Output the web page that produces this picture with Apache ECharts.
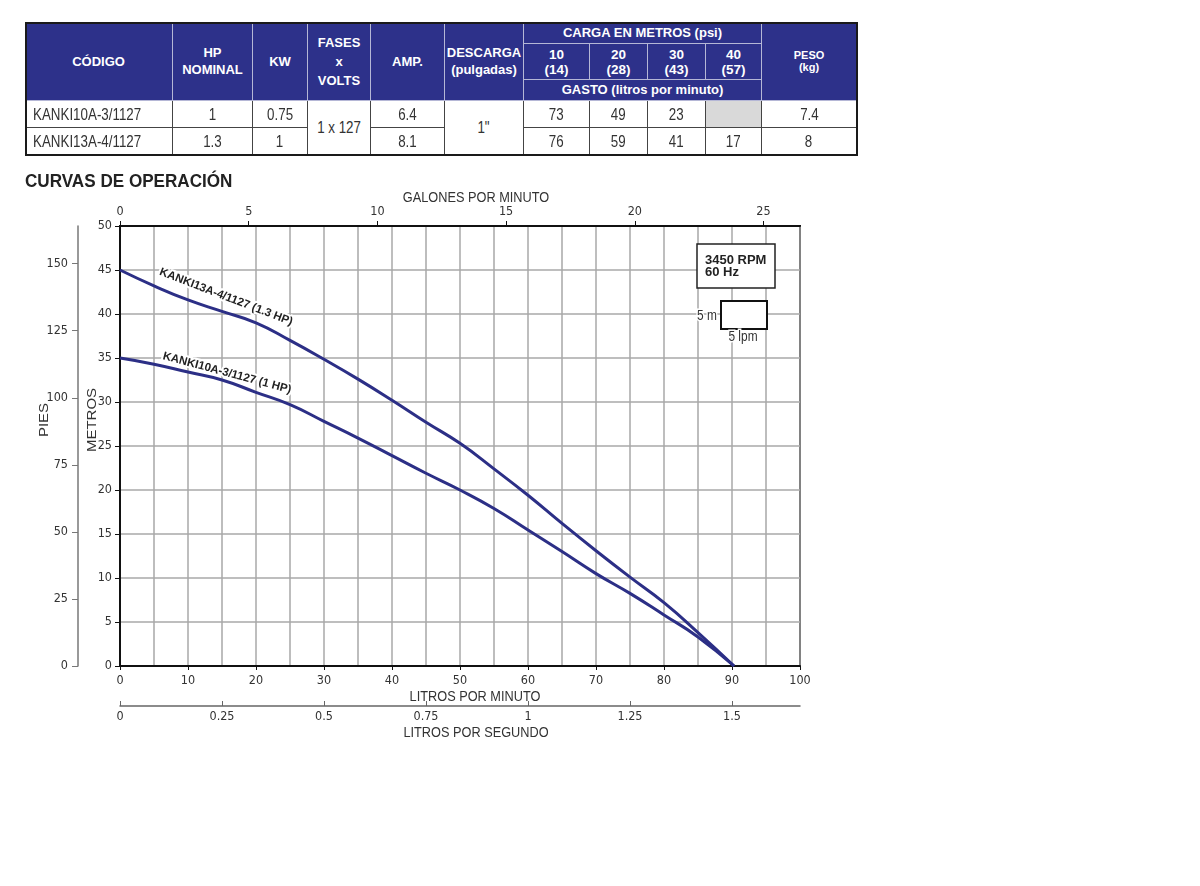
<!DOCTYPE html>
<html>
<head>
<meta charset="utf-8">
<script src="https://cdn.jsdelivr.net/npm/echarts@6/dist/echarts.min.js"></script>
<style>
html,body{margin:0;padding:0;background:#fff;}
#chart{position:absolute;left:0;top:0;width:1200px;height:886px;}
#table{position:absolute;left:0;top:0;width:1200px;height:165px;}
.c{position:absolute;box-sizing:border-box;display:flex;align-items:center;justify-content:center;text-align:center;
   font-family:'Liberation Sans',Arial,sans-serif;white-space:nowrap;}
.h{background:#2d318a;color:#fff;font-weight:bold;font-size:13px;line-height:17px;border-right:1px solid #b5b7d6;border-bottom:1px solid #b5b7d6;}
.h.fv{line-height:19px;}
.h.big{font-size:13.5px;line-height:15px;}
.h.one{line-height:14px;}
.hs{font-size:11px;line-height:12px;}
.b{color:#333;font-size:16.5px;border-right:1px solid #444;border-bottom:1px solid #444;background:#fff;}
.b span{display:inline-block;transform:scaleX(0.81);transform-origin:center;}
.l{justify-content:flex-start;padding-left:8px;}
.l span{transform-origin:left center;}
.g{background:#d9d9d9;}
.frame{position:absolute;box-sizing:border-box;border:2px solid #1a1a1a;pointer-events:none;}
</style>
</head>
<body>
<div id="chart"></div>
<div id="table"></div>
<script>
// ---------- table data ----------
const tableHeaders = ['CÓDIGO', 'HP<br>NOMINAL', 'KW', 'FASES<br>x<br>VOLTS', 'AMP.', 'DESCARGA<br>(pulgadas)'];
const cargaTitle = 'CARGA EN METROS (psi)';
const cargaCols = ['10<br>(14)', '20<br>(28)', '30<br>(43)', '40<br>(57)'];
const gastoTitle = 'GASTO (litros por minuto)';
const pesoTitle = 'PESO<br>(kg)';
const codes = ['KANKI10A-3/1127', 'KANKI13A-4/1127'];
const hpValues = ['1', '1.3'];
const kwValues = ['0.75', '1'];
const fasesVolts = '1 x 127';
const ampValues = ['6.4', '8.1'];
const descarga = '1"';
const gastoRow1 = ['73', '49', '23', null];
const gastoRow2 = ['76', '59', '41', '17'];
const pesoValues = ['7.4', '8'];

// ---------- chart data ----------
const flow13 = [0, 5, 10, 15, 20, 25, 30, 35, 40, 45, 50, 55, 60, 65, 70, 75, 80, 85, 90.3];
const head13 = [45.0, 43.2, 41.6, 40.3, 39.0, 37.0, 34.85, 32.6, 30.2, 27.7, 25.3, 22.4, 19.4, 16.2, 13.1, 10.1, 7.2, 3.8, 0];
const flow10 = [0, 5, 10, 15, 20, 25, 30, 35, 40, 45, 50, 55, 60, 65, 70, 75, 80, 85, 90.3];
const head10 = [35.0, 34.3, 33.4, 32.5, 31.1, 29.7, 27.8, 25.9, 23.9, 21.9, 20.0, 17.9, 15.45, 13.0, 10.5, 8.25, 5.8, 3.3, 0];
const label13 = 'KANKI13A-4/1127 (1.3 HP)';
const label10 = 'KANKI10A-3/1127 (1 HP)';
const gpmTicks = [0, 5, 10, 15, 20, 25];
const lpsTicks = [0, 0.25, 0.5, 0.75, 1, 1.25, 1.5];
const piesTicks = [0, 25, 50, 75, 100, 125, 150];
const LPM_PER_GPM = 3.785412;
const M_PER_FT = 0.3048;

// ---------- build table ----------
const colX = [25, 173, 253, 308, 371, 445, 524, 590, 648, 706, 762, 857];
const rowY = [22, 44, 80, 101, 128, 155];
let html = '';
function cell(c0, c1, r0, r1, text, cls) {
  const isBody = cls.indexOf('b') === 0;
  const inner = text == null ? '' : (isBody ? '<span>' + text + '</span>' : text);
  html += '<div class="c ' + cls + '" style="left:' + colX[c0] + 'px;top:' + rowY[r0] + 'px;width:' +
    (colX[c1] - colX[c0]) + 'px;height:' + (rowY[r1] - rowY[r0]) + 'px;">' + inner + '</div>';
}
tableHeaders.forEach((t, i) => cell(i, i + 1, 0, 3, t, i === 3 ? 'h fv' : 'h'));
cell(6, 10, 0, 1, cargaTitle, 'h one');
cargaCols.forEach((t, i) => cell(6 + i, 7 + i, 1, 2, t, 'h big'));
cell(6, 10, 2, 3, gastoTitle, 'h one');
cell(10, 11, 0, 3, pesoTitle, 'h hs');
[0, 1].forEach(r => {
  cell(0, 1, 3 + r, 4 + r, codes[r], 'b l');
  cell(1, 2, 3 + r, 4 + r, hpValues[r], 'b');
  cell(2, 3, 3 + r, 4 + r, kwValues[r], 'b');
  cell(4, 5, 3 + r, 4 + r, ampValues[r], 'b');
  const g = r === 0 ? gastoRow1 : gastoRow2;
  g.forEach((v, i) => cell(6 + i, 7 + i, 3 + r, 4 + r, v, v == null ? 'b g' : 'b'));
  cell(10, 11, 3 + r, 4 + r, pesoValues[r], 'b');
});
cell(3, 4, 3, 5, fasesVolts, 'b');
cell(5, 6, 3, 5, descarga, 'b');
html += '<div class="frame" style="left:' + colX[0] + 'px;top:' + rowY[0] + 'px;width:' + (colX[11] - colX[0] + 1) + 'px;height:' + (rowY[5] - rowY[0] + 1) + 'px;"></div>';
document.getElementById('table').innerHTML = html;

// ---------- chart ----------
const FONT_AX = "'DejaVu Sans Condensed','Liberation Sans',sans-serif";
const FONT = "'Liberation Sans',Arial,sans-serif";
const gridColor = '#a8a8a8';
const lbl = { color: '#333', fontSize: 12.5, fontFamily: FONT_AX };
const chart = echarts.init(document.getElementById('chart'), null, { renderer: 'canvas' });

function txt(x, y, text, opts) {
  return Object.assign({
    type: 'text', x: x, y: y, z: 100, scaleX: 0.85,
    style: Object.assign({
      text: text, fill: '#333', fontSize: 15, fontFamily: FONT,
      align: 'center', verticalAlign: 'middle', textAlign: 'center', textVerticalAlign: 'middle'
    }, opts && opts.style)
  }, opts && opts.el);
}

chart.setOption({
  animation: false,
  grid: { left: 120, top: 226, width: 680, height: 440, show: true, borderColor: '#111', borderWidth: 2, backgroundColor: 'transparent' },
  xAxis: [
    {
      type: 'value', position: 'bottom', min: 0, max: 100, interval: 10,
      axisLine: { show: true, lineStyle: { color: '#111', width: 2 } },
      axisTick: { show: true, length: 4, lineStyle: { color: '#111' } },
      axisLabel: Object.assign({ margin: 8 }, lbl),
      splitLine: { show: true, lineStyle: { color: gridColor, width: 1.5 } },
      minorTick: { show: false, splitNumber: 2 },
      minorSplitLine: { show: true, lineStyle: { color: gridColor, width: 1.5 } }
    },
    {
      type: 'value', position: 'top', min: 0, max: 100 / LPM_PER_GPM,
      axisLine: { show: true, onZero: false, lineStyle: { color: '#111', width: 2 } },
      axisTick: { show: true, length: 5, customValues: gpmTicks, lineStyle: { color: '#111' } },
      axisLabel: Object.assign({ margin: 8, customValues: gpmTicks }, lbl),
      splitLine: { show: false }
    },
    {
      type: 'value', position: 'bottom', offset: 40, min: 0, max: 100 / 60,
      axisLine: { show: true, onZero: false, lineStyle: { color: '#666', width: 1.5 } },
      axisTick: { show: true, inside: true, length: 5, customValues: lpsTicks, lineStyle: { color: '#666' } },
      axisLabel: Object.assign({ margin: 4, customValues: lpsTicks, formatter: v => String(v) }, lbl),
      splitLine: { show: false }
    }
  ],
  yAxis: [
    {
      type: 'value', position: 'left', min: 0, max: 50, interval: 5,
      axisLine: { show: true, onZero: false, lineStyle: { color: '#111', width: 2 } },
      axisTick: { show: true, length: 5, lineStyle: { color: '#111' } },
      axisLabel: Object.assign({ margin: 8 }, lbl),
      splitLine: { show: true, lineStyle: { color: gridColor, width: 1.5 } }
    },
    {
      type: 'value', position: 'left', offset: 42, min: 0, max: 50 / M_PER_FT,
      axisLine: { show: true, onZero: false, lineStyle: { color: '#777', width: 1.5 } },
      axisTick: { show: true, length: 6, customValues: piesTicks, lineStyle: { color: '#777' } },
      axisLabel: Object.assign({ margin: 10, customValues: piesTicks }, lbl),
      splitLine: { show: false }
    }
  ],
  series: [
    {
      name: label13, type: 'line', xAxisIndex: 0, yAxisIndex: 0,
      data: flow13.map((f, i) => [f, head13[i]]),
      smooth: 0.5, symbol: 'none',
      lineStyle: { color: '#2c2f86', width: 3 }, z: 5
    },
    {
      name: label10, type: 'line', xAxisIndex: 0, yAxisIndex: 0,
      data: flow10.map((f, i) => [f, head10[i]]),
      smooth: 0.5, symbol: 'none',
      lineStyle: { color: '#2c2f86', width: 3 }, z: 5
    }
  ],
  graphic: [
    txt(25, 182, 'CURVAS DE OPERACIÓN', { el: { scaleX: 0.95 }, style: { fill: '#222', fontSize: 18, fontWeight: 'bold', align: 'left', textAlign: 'left' } }),
    txt(476, 198, 'GALONES POR MINUTO'),
    txt(475, 697, 'LITROS POR MINUTO'),
    txt(476, 733, 'LITROS POR SEGUNDO'),
    txt(92, 420, 'METROS', { el: { rotation: Math.PI / 2, scaleX: 1, scaleY: 0.85 } }),
    txt(44, 420, 'PIES', { el: { rotation: Math.PI / 2, scaleX: 1, scaleY: 0.85 } }),
    txt(226, 297, label13, { el: { rotation: -21 * Math.PI / 180, scaleX: 1 }, style: { fill: '#222', fontSize: 11.5, fontWeight: 'bold', stroke: '#fff', lineWidth: 4 } }),
    txt(227, 373, label10, { el: { rotation: -15 * Math.PI / 180, scaleX: 1 }, style: { fill: '#222', fontSize: 11.5, fontWeight: 'bold', stroke: '#fff', lineWidth: 4 } }),
    { type: 'rect', z: 100, shape: { x: 697, y: 244, width: 78, height: 44 }, style: { fill: '#fff', stroke: '#222', lineWidth: 1.5 } },
    txt(705, 254, '3450 RPM\n60 Hz', { el: { scaleX: 1 }, style: { fill: '#222', fontSize: 13, fontWeight: 'bold', lineHeight: 12, align: 'left', textAlign: 'left', verticalAlign: 'top', textVerticalAlign: 'top' } }),
    { type: 'rect', z: 100, shape: { x: 721, y: 301, width: 46, height: 28 }, style: { fill: '#fff', stroke: '#111', lineWidth: 2 } },
    txt(707, 316, '5 m', { style: { fontSize: 14, stroke: '#fff', lineWidth: 3 } }),
    txt(743, 337, '5 lpm', { style: { fontSize: 14, stroke: '#fff', lineWidth: 3 } })
  ]
});
</script>
</body>
</html>
